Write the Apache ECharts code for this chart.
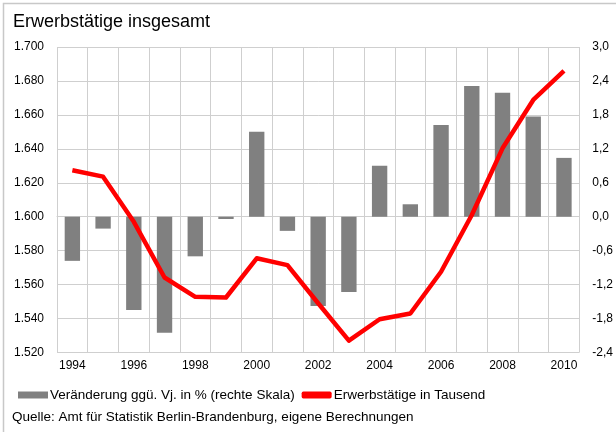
<!DOCTYPE html>
<html>
<head>
<meta charset="utf-8">
<script src="https://cdn.jsdelivr.net/npm/echarts@6/dist/echarts.min.js"></script>
<style>
  html, body { margin: 0; padding: 0; background: #fff; }
  #chart { width: 616px; height: 432px; }
</style>
</head>
<body>
<div id="chart"></div>
<script>
// Jahre
const years = ['1994','1995','1996','1997','1998','1999','2000','2001','2002',
               '2003','2004','2005','2006','2007','2008','2009','2010'];
// Veränderung gegenüber Vorjahr in % (rechte Skala)
const changePct = [-0.78, -0.21, -1.65, -2.05, -0.70, -0.04, 1.50, -0.25, -1.58,
                   -1.33, 0.90, 0.22, 1.62, 2.31, 2.19, 1.77, 1.04];
// Erwerbstätige in Tausend (linke Skala)
const employed = [1627.4, 1623.6, 1597.0, 1564.2, 1552.8, 1552.4, 1575.5, 1571.5, 1549.0,
                  1527.0, 1539.6, 1543.0, 1567.6, 1601.0, 1640.3, 1668.8, 1686.0];

const barName = 'Veränderung ggü. Vj. in % (rechte Skala)';
const lineName = 'Erwerbstätige in Tausend';
const titleText = 'Erwerbstätige insgesamt';
const sourceText = 'Quelle: Amt für Statistik Berlin-Brandenburg, eigene Berechnungen';

const gridColor = '#cfcfcf';
const font = 'Liberation Sans, Arial, sans-serif';

const chart = echarts.init(document.getElementById('chart'), null, { renderer: 'canvas' });

chart.setOption({
  animation: false,
  backgroundColor: '#fff',
  textStyle: { fontFamily: font },
  title: {
    text: titleText,
    left: 8, top: 8,
    textStyle: { fontSize: 18, fontWeight: 'normal', color: '#000', fontFamily: font }
  },
  legend: {
    left: 13, top: 383,
    itemWidth: 30, itemHeight: 7, itemGap: 7,
    textStyle: { fontSize: 13.5, color: '#000', padding: [0, 0, 0, -3] },
    data: [
      { name: barName, icon: 'rect' },
      { name: lineName, icon: 'roundRect', itemStyle: { color: '#ff0000' } }
    ]
  },
  graphic: [
    {
      type: 'rect', silent: true,
      shape: { x: 3.5, y: 3.5, width: 640, height: 460 },
      style: { fill: 'none', stroke: '#c8c8c8', lineWidth: 1.5 }
    },
    {
      type: 'text', left: 12, top: 410,
      style: { text: sourceText, fontSize: 13.5, fill: '#000', fontFamily: font }
    }
  ],
  grid: { left: 57, right: 35, top: 47, bottom: 79.5, containLabel: false },
  xAxis: {
    type: 'category',
    data: years,
    boundaryGap: true,
    axisLine: { show: true, lineStyle: { color: gridColor, width: 1 } },
    axisTick: { show: false },
    axisLabel: { interval: 1, margin: 7, fontSize: 12, color: '#000' },
    splitLine: { show: true, interval: 0, lineStyle: { color: gridColor, width: 1 } }
  },
  yAxis: [
    {
      type: 'value',
      min: 1520, max: 1700, interval: 20,
      axisLine: { show: false }, axisTick: { show: false },
      axisLabel: {
        margin: 13, fontSize: 12, color: '#000',
        formatter: v => { const s = String(Math.round(v)); return s.slice(0, 1) + '.' + s.slice(1); }
      },
      splitLine: { show: true, lineStyle: { color: gridColor, width: 1 } }
    },
    {
      type: 'value',
      min: -2.4, max: 3.0, interval: 0.6,
      axisLine: { show: false }, axisTick: { show: false },
      axisLabel: {
        margin: 13, fontSize: 12, color: '#000',
        formatter: v => (Math.abs(v) < 1e-9 ? 0 : v).toFixed(1).replace('.', ',')
      },
      splitLine: { show: false }
    }
  ],
  series: [
    {
      name: barName,
      type: 'bar',
      yAxisIndex: 1,
      data: changePct,
      barWidth: '50%',
      itemStyle: { color: '#808080' },
      z: 2
    },
    {
      name: lineName,
      type: 'line',
      yAxisIndex: 0,
      data: employed,
      showSymbol: false,
      symbol: 'none',
      lineStyle: { color: '#ff0000', width: 4.5, join: 'round' },
      itemStyle: { color: '#ff0000' },
      z: 3
    }
  ]
});
</script>
</body>
</html>
